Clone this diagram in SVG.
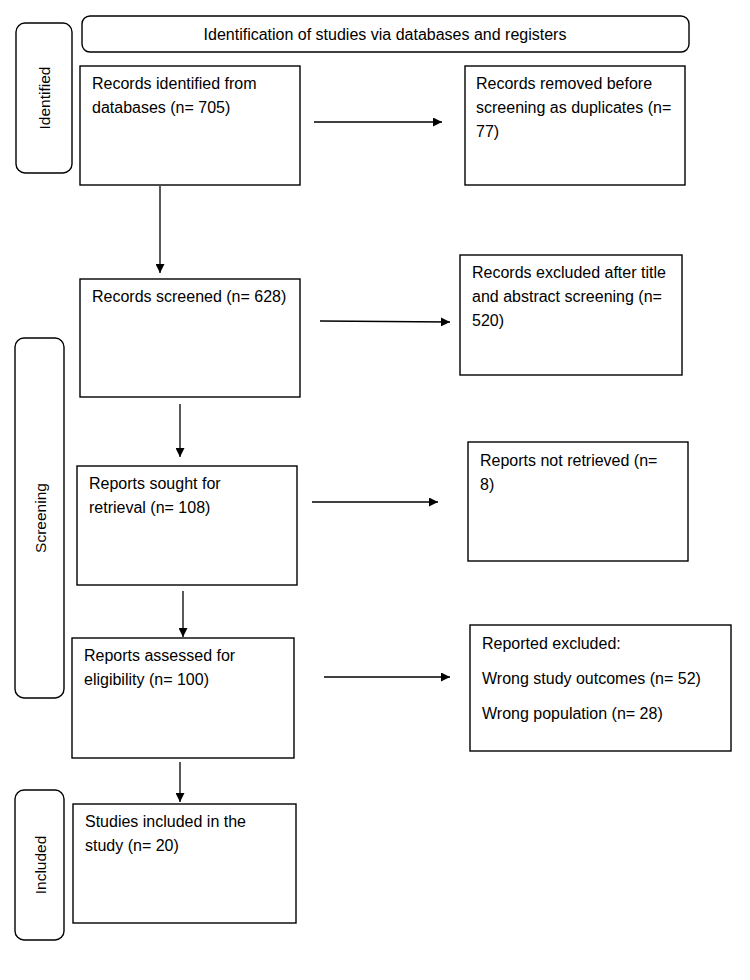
<svg xmlns="http://www.w3.org/2000/svg" width="750" height="980" viewBox="0 0 750 980">
<style>
.box{fill:#fff;stroke:#000;stroke-width:1.4}
.lbl{fill:#fff;stroke:#000;stroke-width:1.4}
text{font-family:"Liberation Sans",Arial,sans-serif;font-size:16px;fill:#000}
.side{font-size:15.5px;text-anchor:middle}
.conn line{stroke:#000;stroke-width:1.3}
</style>
<defs>
<marker id="ah" viewBox="0 0 10 10" refX="10" refY="5" markerWidth="10" markerHeight="9" markerUnits="userSpaceOnUse" orient="auto"><path d="M0,0 L10,5 L0,10 z" fill="#000"/></marker>
</defs>
<rect width="750" height="980" fill="#fff"/>
<g id="banner"><rect class="lbl" x="82" y="16" width="607" height="36" rx="8"/><text x="385" y="40" text-anchor="middle">Identification of studies via databases and registers</text></g>
<g id="lbl-identified"><rect class="lbl" x="16" y="23" width="56" height="150" rx="9"/><text class="side" transform="translate(50,98) rotate(-90)">Identified</text></g>
<g id="lbl-screening"><rect class="lbl" x="15" y="338" width="49" height="360" rx="9"/><text class="side" transform="translate(46,518) rotate(-90)">Screening</text></g>
<g id="lbl-included"><rect class="lbl" x="15" y="790" width="49" height="150" rx="9"/><text class="side" transform="translate(46,865) rotate(-90)">Included</text></g>
<g id="n1"><rect class="box" x="80" y="66" width="220" height="119"/><text x="92" y="89">Records identified from</text><text x="92" y="113">databases (n= 705)</text></g>
<g id="n2"><rect class="box" x="465" y="66" width="220" height="119"/><text x="476" y="89">Records removed before</text><text x="476" y="113">screening as duplicates (n=</text><text x="476" y="137">77)</text></g>
<g id="n3"><rect class="box" x="80" y="279" width="220" height="118"/><text x="92" y="302">Records screened (n= 628)</text></g>
<g id="n4"><rect class="box" x="460" y="255" width="222" height="120"/><text x="472" y="278">Records excluded after title</text><text x="472" y="302">and abstract screening (n=</text><text x="472" y="326">520)</text></g>
<g id="n5"><rect class="box" x="77" y="466" width="220" height="119"/><text x="89" y="489">Reports sought for</text><text x="89" y="513">retrieval (n= 108)</text></g>
<g id="n6"><rect class="box" x="468" y="442" width="220" height="119"/><text x="480" y="466">Reports not retrieved (n=</text><text x="480" y="490">8)</text></g>
<g id="n7"><rect class="box" x="72" y="638" width="222" height="120"/><text x="84" y="661">Reports assessed for</text><text x="84" y="685">eligibility (n= 100)</text></g>
<g id="n8"><rect class="box" x="470" y="625" width="261" height="126"/><text x="482" y="649">Reported excluded:</text><text x="482" y="684">Wrong study outcomes (n= 52)</text><text x="482" y="719">Wrong population (n= 28)</text></g>
<g id="n9"><rect class="box" x="73" y="804" width="223" height="119"/><text x="85" y="827">Studies included in the</text><text x="85" y="851">study (n= 20)</text></g>
<g class="conn" id="connectors">
<line x1="314" y1="122" x2="442" y2="122" marker-end="url(#ah)"/>
<line x1="160" y1="186" x2="160" y2="273" marker-end="url(#ah)"/>
<line x1="320" y1="321" x2="450" y2="322" marker-end="url(#ah)"/>
<line x1="180" y1="404" x2="180" y2="457" marker-end="url(#ah)"/>
<line x1="312" y1="502" x2="438" y2="502" marker-end="url(#ah)"/>
<line x1="183" y1="591" x2="183" y2="637" marker-end="url(#ah)"/>
<line x1="324" y1="677" x2="450" y2="677" marker-end="url(#ah)"/>
<line x1="180" y1="762" x2="180" y2="802" marker-end="url(#ah)"/>
</g>
</svg>
